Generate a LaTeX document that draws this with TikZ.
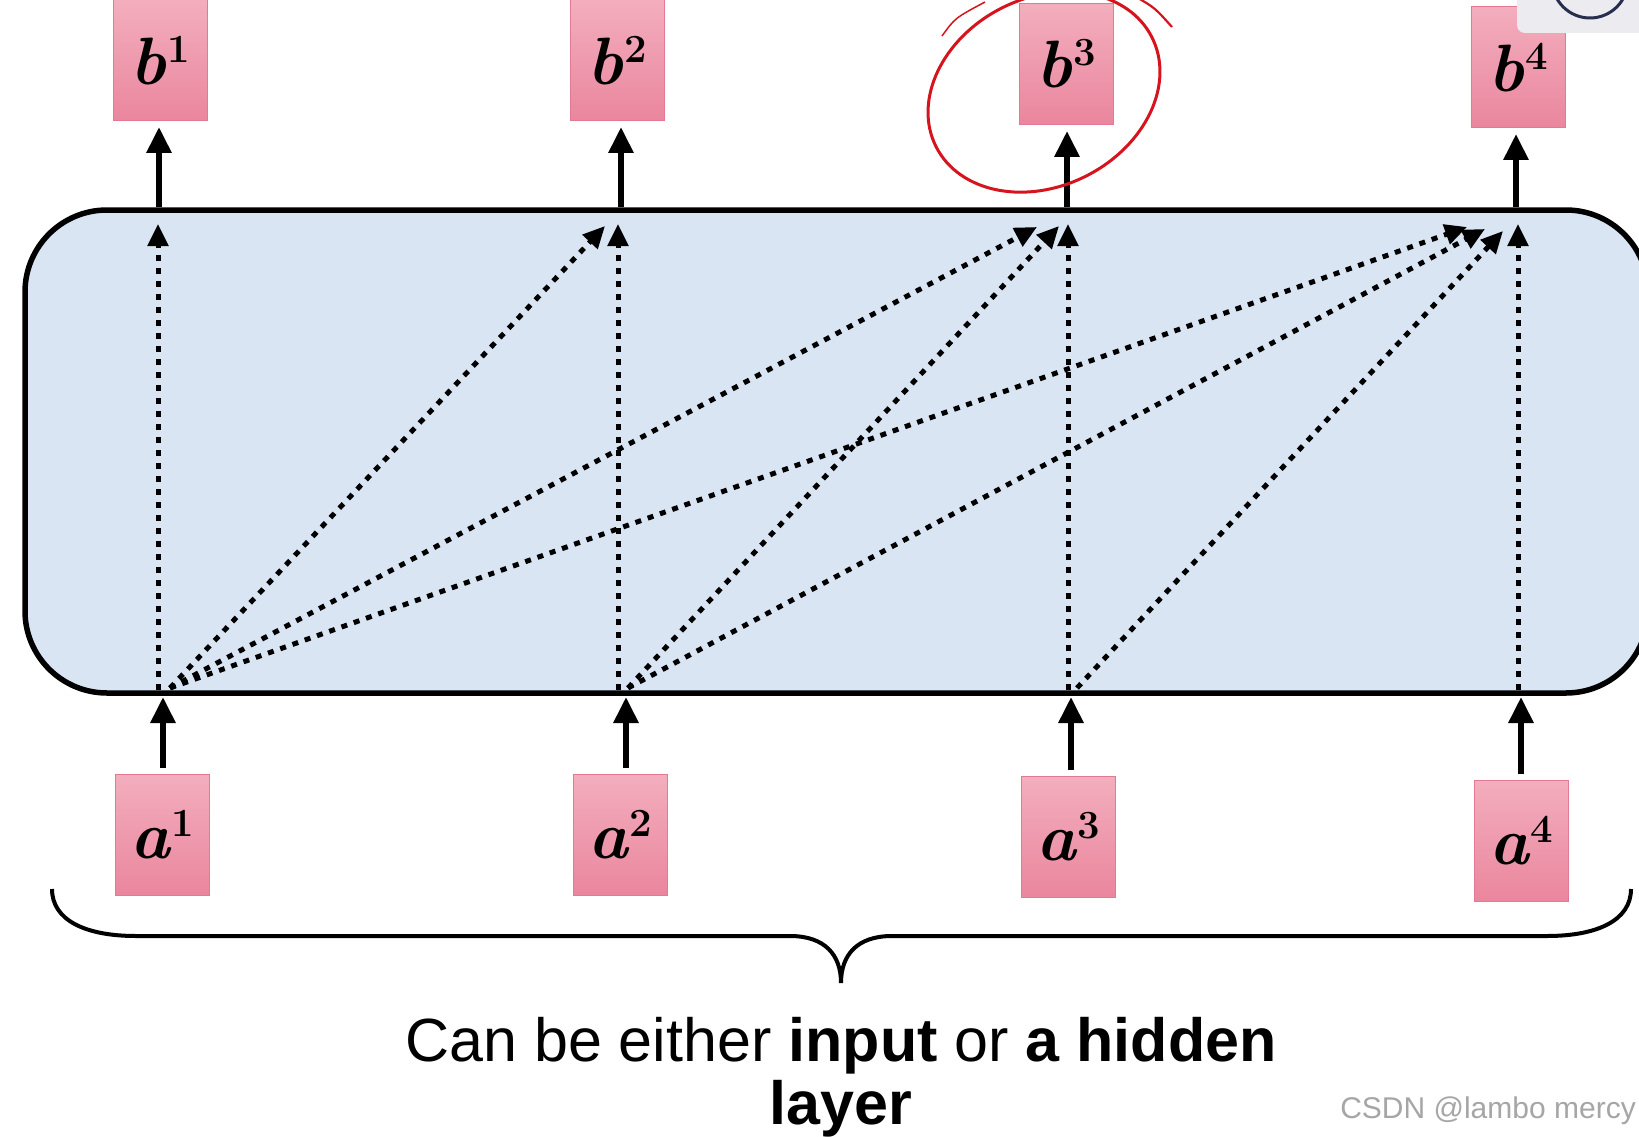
\documentclass[tikz,border=0pt]{standalone}
\usepackage{fontspec}
\usetikzlibrary{arrows.meta}
\newfontfamily\arial{Liberation Sans}
\definecolor{pinktop}{RGB}{243,174,190}
\definecolor{pinkbot}{RGB}{234,134,158}
\definecolor{pinkline}{RGB}{226,122,148}
\definecolor{panelfill}{RGB}{217,229,243}
\definecolor{markred}{RGB}{214,20,30}
\definecolor{ringblue}{RGB}{40,46,78}
\definecolor{uigray}{RGB}{236,236,240}
\newcommand{\boxlbl}[2]{{\fontsize{67}{67}\selectfont\bfseries\itshape #1}\kern1pt\raisebox{22pt}{\fontsize{40}{40}\selectfont\bfseries #2}}
\begin{document}
\begin{tikzpicture}[x=1pt,y=-1pt,
  pinkbox/.style={draw=pinkline, line width=1pt, top color=pinktop, bottom color=pinkbot,
    minimum width=94pt, minimum height=121pt, inner sep=0pt},
  solidarr/.style={line width=6pt, -{Triangle[width=24pt,length=26pt]}},
  dotarr/.style={line width=5pt, dash pattern=on 6pt off 7pt, -{Triangle[width=20pt,length=22pt]}},
  capfont/.style={font=\arial\fontsize{61}{61}\selectfont, inner sep=0pt, anchor=base}
]
\useasboundingbox (0,0) rectangle (1639,1137);
\clip (0,0) rectangle (1639,1137);
\fill[white] (0,0) rectangle (1639,1137);

% panel
\node[draw, line width=5.5pt, fill=panelfill, rounded corners=82pt,
  minimum width=1623pt, minimum height=483pt, inner sep=0pt] (panel) at (836.5,451.5) {};

% boxes
\node[pinkbox] (b1) at (160,60.5) {\boxlbl{b}{1}};
\node[pinkbox] (b2) at (617.5,60.5) {\boxlbl{b}{2}};
\node[pinkbox] (b3) at (1066.5,64) {\boxlbl{b}{3}};
\node[pinkbox] (b4) at (1518.5,67.5) {\boxlbl{b}{4}};
\node[pinkbox] (a1) at (162.5,834.5) {\boxlbl{a}{1}};
\node[pinkbox] (a2) at (620.5,834.5) {\boxlbl{a}{2}};
\node[pinkbox] (a3) at (1068.5,836.5) {\boxlbl{a}{3}};
\node[pinkbox] (a4) at (1521,840.5) {\boxlbl{a}{4}};

% coordinates
\coordinate (t1) at (159,207);  \coordinate (u1) at (159,127);
\coordinate (t2) at (621,207);  \coordinate (u2) at (621,127);
\coordinate (t3) at (1067,207); \coordinate (u3) at (1067,131);
\coordinate (t4) at (1516,207); \coordinate (u4) at (1516,134);
\coordinate (p1) at (163,768);  \coordinate (q1) at (163,697);
\coordinate (p2) at (626,768);  \coordinate (q2) at (626,697);
\coordinate (p3) at (1071,770); \coordinate (q3) at (1071,697);
\coordinate (p4) at (1521,774); \coordinate (q4) at (1521,697);
\coordinate (v1) at (158,690);  \coordinate (w1) at (158,224);
\coordinate (v2) at (618,690);  \coordinate (w2) at (618,224);
\coordinate (v3) at (1068,690); \coordinate (w3) at (1068,224);
\coordinate (v4) at (1518,690); \coordinate (w4) at (1518,224);
\coordinate (s1) at (170,688);
\coordinate (s2) at (628,688);
\coordinate (s3) at (1077,688);
\coordinate (e12) at (605,226);
\coordinate (e13) at (1037,227);
\coordinate (e14) at (1467,227);
\coordinate (e23) at (1059,226);
\coordinate (e24) at (1485,229);
\coordinate (e34) at (1503,231);

% solid arrows
\foreach \i in {1,2,3,4} {
  \draw[solidarr] (t\i) -- (u\i);
  \draw[solidarr] (p\i) -- (q\i);
  \draw[dotarr] (v\i) -- (w\i);
}
% dotted diagonals
\draw[dotarr] (s1) -- (e12);
\draw[dotarr] (s1) -- (e13);
\draw[dotarr] (s1) -- (e14);
\draw[dotarr] (s2) -- (e23);
\draw[dotarr] (s2) -- (e24);
\draw[dotarr] (s3) -- (e34);

% red hand-drawn mark
\draw[markred, line width=3pt, rotate around={27:(1044,92)}] (1044,92) ellipse [x radius=121, y radius=94];
\draw[markred, line width=2.2pt] (1138,-2) .. controls (1155,8) .. (1172,27);
\draw[markred, line width=1.5pt] (942,36) .. controls (955,18) .. (985,2);

% corner ui
\fill[uigray, rounded corners=8pt] (1517,-20) rectangle (1660,33);
\draw[ringblue, line width=3pt] (1590,-20) circle (38);

% brace
\draw[line width=4pt] (52,889) .. controls (52,920) and (85,936) .. (136,936) -- (790,936)
  .. controls (825,936) and (841,955) .. (841,983)
  .. controls (841,955) and (857,936) .. (892,936) -- (1547,936)
  .. controls (1598,936) and (1631,920) .. (1631,889);

% caption
\node[capfont] (cap1) at (841,1061) {Can be either \textbf{input} or \textbf{a hidden}};
\node[capfont] (cap2) at (841,1124) {\textbf{layer}};
\node[anchor=base east, text=black!35, font=\arial\fontsize{30}{30}\selectfont, inner sep=0pt] (wm) at (1636,1118) {CSDN @lambo mercy};
\end{tikzpicture}
\end{document}
